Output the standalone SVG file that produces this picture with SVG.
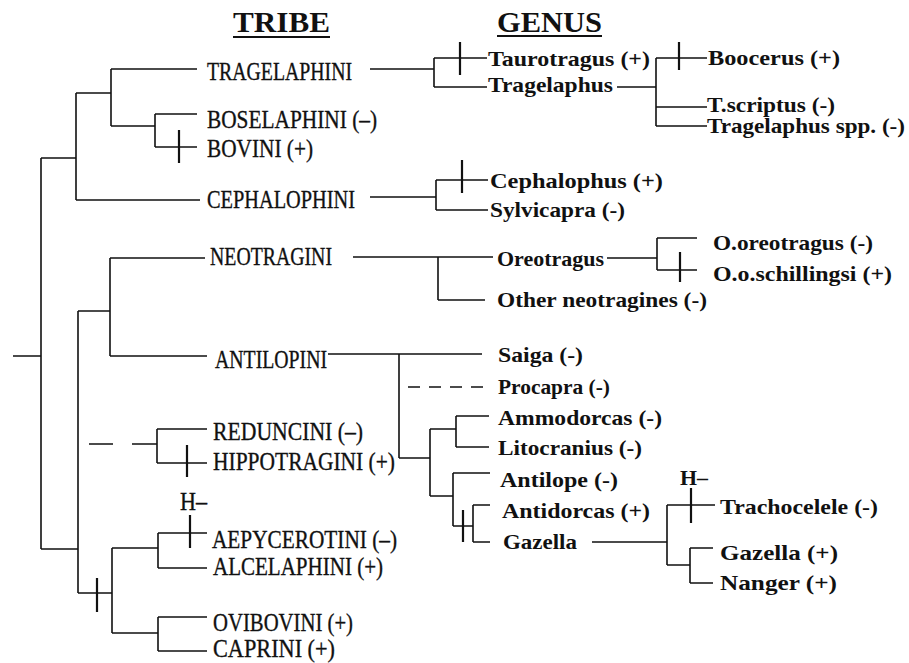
<svg xmlns="http://www.w3.org/2000/svg" width="909" height="663" viewBox="0 0 909 663">
<style>
.t{font-family:"Liberation Serif","Times New Roman",serif;font-size:26px;fill:#111;stroke:#111;stroke-width:0.35}
.g{font-family:"Liberation Serif","Times New Roman",serif;font-size:22px;font-weight:bold;fill:#111}
.h{font-family:"Liberation Serif","Times New Roman",serif;font-size:29px;font-weight:bold;fill:#111}
.c path{fill:none;stroke:#111;stroke-width:1.6}
.c .k{stroke-width:2.2}
.c .d{stroke-dasharray:12 9}
.u{stroke:#111;stroke-width:2.2}
</style>
<rect width="909" height="663" fill="#fff"/>
<g id="headers">
<text class="h" x="233" y="32" textLength="97" lengthAdjust="spacingAndGlyphs">TRIBE</text>
<line class="u" x1="233" y1="37" x2="330" y2="37"/>
<text class="h" x="497" y="32" textLength="105" lengthAdjust="spacingAndGlyphs">GENUS</text>
<line class="u" x1="497" y1="36" x2="602" y2="36"/>
</g>
<g class="c" id="connectors">
<path d="M13,356H41M41,158V549M41,158H76M76,93V200M76,93H111M111,69V126M111,69H197M111,126H155M155,114V147M155,114H197M155,147H197M76,200H200"/>
<path class="k" d="M179,130V163"/>
<path d="M370,69H434M434,58V87M434,58H487M434,87H487M617,87H656M656,58V126M656,58H707M656,107H707M656,126H707"/>
<path class="k" d="M460,42V75M679,42V70"/>
<path d="M370,197H436M436,180V210M436,180H488M436,210H488"/>
<path class="k" d="M462,160V193"/>
<path d="M41,549H78M78,311V593M78,311H110M110,258V356M110,258H205M353,257H493M438,257V300M438,300H485M607,258H657M657,238V270M657,238H697M657,270H697"/>
<path class="k" d="M680,252V282"/>
<path d="M110,356H207M328,354H482M399,354V458M399,458H430M430,429V496M430,429H456M456,416V447M456,416H489M456,447H489"/>
<path class="d" d="M408,387H485"/>
<path d="M430,496H453M453,473V526M453,473H490M453,526H473M473,505V542M473,505H490M473,542H490M592,542H667M667,505V565M667,505H715M667,565H690M690,548V583M690,548H713M690,583H713"/>
<path class="k" d="M463,510V542M691,488V523"/>
<path d="M89,444H113M132,444H157M157,429V463M157,429H207M157,463H207M78,593H112M112,548V633M112,548H158M158,533V568M158,533H207M158,568H207M112,633H158M158,617V651M158,617H207M158,651H207"/>
<path class="k" d="M187,445V477M97,578V612M190,515V548"/>
</g>
<g id="tragelaphini"><text class="t" x="207" y="80" textLength="145" lengthAdjust="spacingAndGlyphs">TRAGELAPHINI</text></g>
<g id="boselaphini"><text class="t" x="207" y="128" textLength="170" lengthAdjust="spacingAndGlyphs">BOSELAPHINI (–)</text></g>
<g id="bovini"><text class="t" x="207" y="157" textLength="106" lengthAdjust="spacingAndGlyphs">BOVINI (+)</text></g>
<g id="cephalophini"><text class="t" x="207" y="208" textLength="148" lengthAdjust="spacingAndGlyphs">CEPHALOPHINI</text></g>
<g id="neotragini"><text class="t" x="210" y="265" textLength="122" lengthAdjust="spacingAndGlyphs">NEOTRAGINI</text></g>
<g id="antilopini"><text class="t" x="215" y="368" textLength="112" lengthAdjust="spacingAndGlyphs">ANTILOPINI</text></g>
<g id="reduncini"><text class="t" x="213" y="440" textLength="150" lengthAdjust="spacingAndGlyphs">REDUNCINI (–)</text></g>
<g id="hippotragini"><text class="t" x="213" y="470" textLength="182" lengthAdjust="spacingAndGlyphs">HIPPOTRAGINI (+)</text></g>
<g id="h-tribe"><text class="t" x="180" y="510" textLength="27" lengthAdjust="spacingAndGlyphs">H–</text></g>
<g id="aepycerotini"><text class="t" x="212" y="548" textLength="185" lengthAdjust="spacingAndGlyphs">AEPYCEROTINI (–)</text></g>
<g id="alcelaphini"><text class="t" x="213" y="575" textLength="170" lengthAdjust="spacingAndGlyphs">ALCELAPHINI (+)</text></g>
<g id="ovibovini"><text class="t" x="213" y="631" textLength="140" lengthAdjust="spacingAndGlyphs">OVIBOVINI (+)</text></g>
<g id="caprini"><text class="t" x="213" y="657" textLength="122" lengthAdjust="spacingAndGlyphs">CAPRINI (+)</text></g>
<g id="taurotragus"><text class="g" x="488" y="66" textLength="162" lengthAdjust="spacingAndGlyphs">Taurotragus (+)</text></g>
<g id="tragelaphus"><text class="g" x="488" y="92" textLength="125" lengthAdjust="spacingAndGlyphs">Tragelaphus</text></g>
<g id="boocerus"><text class="g" x="708" y="65" textLength="132" lengthAdjust="spacingAndGlyphs">Boocerus (+)</text></g>
<g id="tscriptus"><text class="g" x="707" y="112" textLength="128" lengthAdjust="spacingAndGlyphs">T.scriptus (-)</text></g>
<g id="tragelaphus-spp"><text class="g" x="707" y="133" textLength="198" lengthAdjust="spacingAndGlyphs">Tragelaphus spp. (-)</text></g>
<g id="cephalophus"><text class="g" x="490" y="188" textLength="173" lengthAdjust="spacingAndGlyphs">Cephalophus (+)</text></g>
<g id="sylvicapra"><text class="g" x="490" y="217" textLength="135" lengthAdjust="spacingAndGlyphs">Sylvicapra (-)</text></g>
<g id="oreotragus"><text class="g" x="497" y="266">Oreotragus</text></g>
<g id="other-neotragines"><text class="g" x="497" y="307" textLength="210" lengthAdjust="spacingAndGlyphs">Other neotragines (-)</text></g>
<g id="o-oreotragus"><text class="g" x="713" y="250" textLength="160" lengthAdjust="spacingAndGlyphs">O.oreotragus (-)</text></g>
<g id="o-o-schillingsi"><text class="g" x="713" y="281" textLength="179" lengthAdjust="spacingAndGlyphs">O.o.schillingsi (+)</text></g>
<g id="saiga"><text class="g" x="498" y="362" textLength="85" lengthAdjust="spacingAndGlyphs">Saiga (-)</text></g>
<g id="procapra"><text class="g" x="498" y="394" textLength="112" lengthAdjust="spacingAndGlyphs">Procapra (-)</text></g>
<g id="ammodorcas"><text class="g" x="498" y="425" textLength="164" lengthAdjust="spacingAndGlyphs">Ammodorcas (-)</text></g>
<g id="litocranius"><text class="g" x="498" y="455" textLength="144" lengthAdjust="spacingAndGlyphs">Litocranius (-)</text></g>
<g id="antilope"><text class="g" x="500" y="487" textLength="118" lengthAdjust="spacingAndGlyphs">Antilope (-)</text></g>
<g id="antidorcas"><text class="g" x="502" y="518" textLength="148" lengthAdjust="spacingAndGlyphs">Antidorcas (+)</text></g>
<g id="gazella-genus"><text class="g" x="503" y="549" textLength="74" lengthAdjust="spacingAndGlyphs">Gazella</text></g>
<g id="h-genus"><text class="g" x="680" y="485" textLength="28" lengthAdjust="spacingAndGlyphs">H–</text></g>
<g id="trachocelele"><text class="g" x="720" y="514" textLength="158" lengthAdjust="spacingAndGlyphs">Trachocelele (-)</text></g>
<g id="gazella-sub"><text class="g" x="720" y="560" textLength="118" lengthAdjust="spacingAndGlyphs">Gazella (+)</text></g>
<g id="nanger"><text class="g" x="720" y="590" textLength="117" lengthAdjust="spacingAndGlyphs">Nanger (+)</text></g>
</svg>
